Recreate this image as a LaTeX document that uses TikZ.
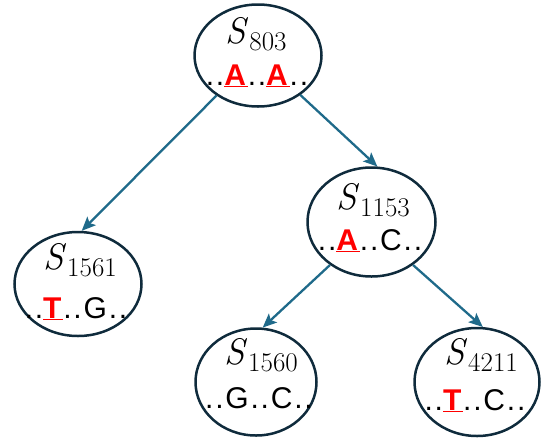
\documentclass[tikz,border=0pt]{standalone}
\usepackage{fontspec}
\newfontfamily\seqfont[LetterSpace=6]{Liberation Sans}
\usetikzlibrary{shapes.geometric,arrows.meta}
\definecolor{edgecol}{HTML}{1F6A8A}
\definecolor{outcol}{HTML}{0F2B3C}
\definecolor{mutred}{HTML}{FF0000}
\newcommand{\mutbase}[1]{\textcolor{mutred}{\underline{\textbf{#1}}}}
\newcommand{\seqid}[1]{\textit{S}\kern1pt\raisebox{-7pt}{\fontsize{27}{29}\selectfont #1}}
\tikzset{
  seqnode/.style={ellipse, draw=outcol, line width=2.5pt, inner sep=0pt},
  idtext/.style={anchor=base, inner sep=0pt, font=\fontsize{37}{40}\selectfont},
  seqtext/.style={anchor=base, inner sep=0pt, font=\fontsize{30}{34}\selectfont\seqfont},
  link/.style={draw=edgecol, line width=2.3pt, -{Stealth[length=14pt,width=12pt,inset=3pt]}}
}
\begin{document}
\begin{tikzpicture}[x=1pt,y=-1pt]
\useasboundingbox (0,0) rectangle (548,445);
% ellipses
\node[seqnode, minimum width=127pt, minimum height=102pt] (a) at (258,55.5) {};
\node[seqnode, minimum width=128pt, minimum height=109pt] (b) at (371.5,222) {};
\node[seqnode, minimum width=127pt, minimum height=104pt] (c) at (78,284) {};
\node[seqnode, minimum width=121pt, minimum height=107pt] (d) at (256,382) {};
\node[seqnode, minimum width=125pt, minimum height=108pt] (e) at (477,382) {};
% texts
\node[idtext] (a1) at (256,43) {\seqid{803}};
\node[seqtext] (a2) at (257,85) {..\mutbase{A}..\mutbase{A}..};
\node[idtext] (b1) at (373,209) {\seqid{1153}};
\node[seqtext] (b2) at (370,250) {..\mutbase{A}..C..};
\node[idtext] (c1) at (80,269) {\seqid{1561}};
\node[seqtext] (c2) at (76,318) {..\mutbase{T}..G..};
\node[idtext] (d1) at (261,364) {\seqid{1560}};
\node[seqtext] (d2) at (259,408) {..G..C..};
\node[idtext] (e1) at (481,364) {\seqid{4211}};
\node[seqtext] (e2) at (475,410) {..\mutbase{T}..C..};
% connectors
\draw[link] (a.224) -- (c.86);
\draw[link] (a.317) -- (b.84);
\draw[link] (b.226) -- (d.83);
\draw[link] (b.314) -- (e.84);
\end{tikzpicture}
\end{document}
